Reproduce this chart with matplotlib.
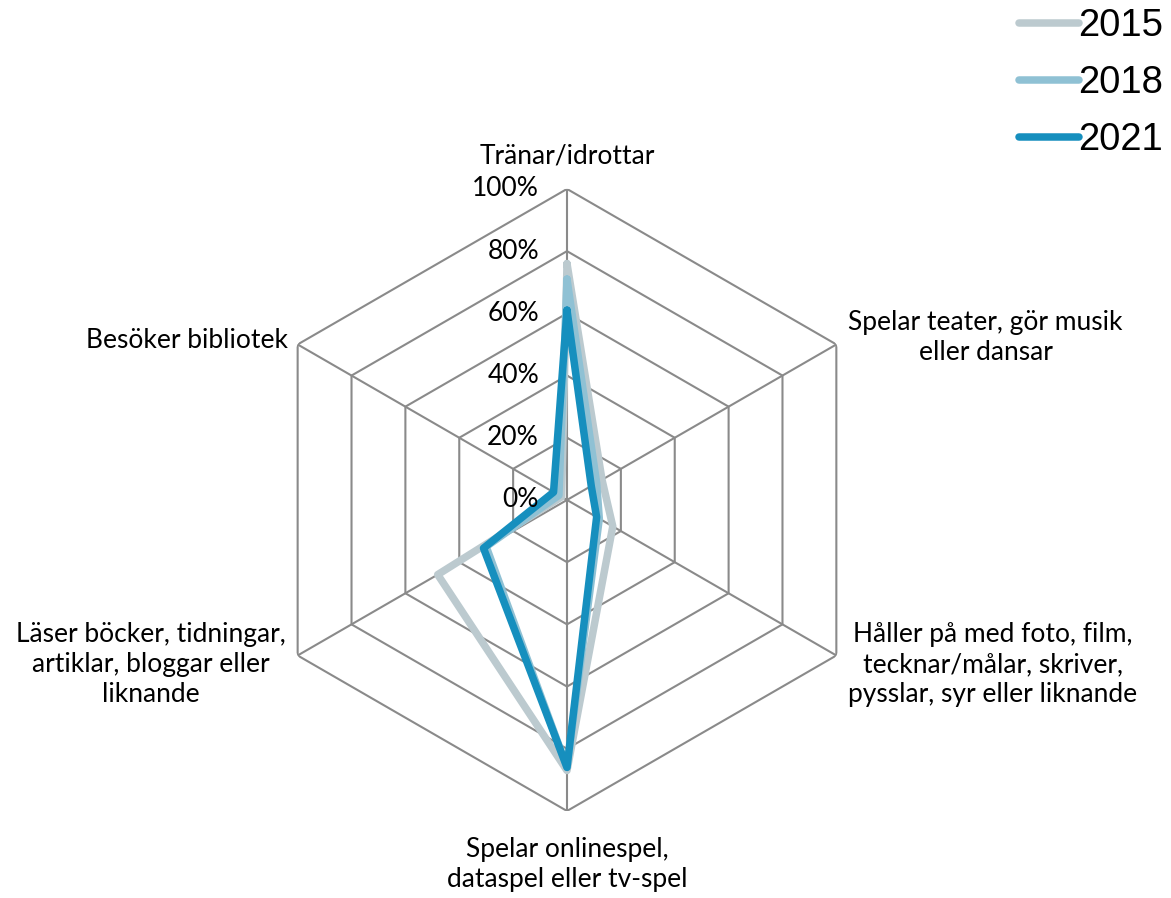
import matplotlib.pyplot as plt
import numpy as np

categories = ['Tränar/idrottar',
              'Spelar teater, gör musik\neller dansar',
              'Håller på med foto, film,\ntecknar/målar, skriver,\npysslar, syr eller liknande',
              'Spelar onlinespel,\ndataspel eller tv-spel',
              'Läser böcker, tidningar,\nartiklar, bloggar eller\nliknande',
              'Besöker bibliotek']
years = ['2015', '2018', '2021']
v2015 = [0.76, 0.13, 0.17, 0.87, 0.48, 0.02]
v2018 = [0.71, 0.11, 0.12, 0.86, 0.30, 0.03]
v2021 = [0.61, 0.09, 0.11, 0.86, 0.31, 0.05]
rings = [0.2, 0.4, 0.6, 0.8, 1.0]
ring_labels = ['0%', '20%', '40%', '60%', '80%', '100%']
colors = ['#bccacf', '#8fc1d4', '#168fbe']

fig = plt.figure(figsize=(11.71, 8.98), dpi=100)
ax = fig.add_axes([0.2186, 0.0969, 0.5312, 0.6927], projection='polar')
ax.set_theta_zero_location('N')
ax.set_theta_direction(-1)

theta = np.linspace(0, 2 * np.pi, len(categories), endpoint=False)
theta_c = np.append(theta, theta[0])

# hexagon grid
for r in rings:
    ax.plot(theta_c, [r] * len(theta_c), color='#8a8a8a', lw=1.5, zorder=1)
for t in theta:
    ax.plot([t, t], [0, 1], color='#8a8a8a', lw=1.5, zorder=1)

lines = []
for vals, col, lab in zip([v2015, v2018, v2021], colors, years):
    vv = vals + vals[:1]
    ln, = ax.plot(theta_c, vv, color=col, lw=5.4, label=lab, zorder=3,
                  solid_capstyle='round', solid_joinstyle='round')
    lines.append(ln)

ax.set_ylim(0, 1)
ax.set_axis_off()

lab_font = dict(family='Lato', fontsize=19)

# radial tick labels
for i, lab in enumerate(ring_labels):
    ax.annotate(lab, xy=(0, i * 0.2), xytext=(-28, 0), textcoords='offset pixels',
                ha='right', va='center', **lab_font)

# category labels
offsets = [((0, 20), 'center', 'bottom'),
           ((12, 7), 'left', 'center'),
           ((12, -9), 'left', 'center'),
           ((0, -26), 'center', 'top'),
           ((-12, -9), 'right', 'center'),
           ((-10, 4), 'right', 'center')]
for t, lab, (off, ha, va) in zip(theta, categories, offsets):
    ax.annotate(lab, xy=(t, 1), xytext=off, textcoords='offset pixels',
                ha=ha, va=va, multialignment='center', linespacing=1.25, **lab_font)

fig.legend(handles=lines, loc='upper right', bbox_to_anchor=(1.023, 1.029),
           frameon=False, prop={'family': 'Liberation Sans', 'size': 27.5},
           handlelength=1.55, handletextpad=0.0, labelspacing=0.55)

fig.savefig('out.png', dpi=100)
